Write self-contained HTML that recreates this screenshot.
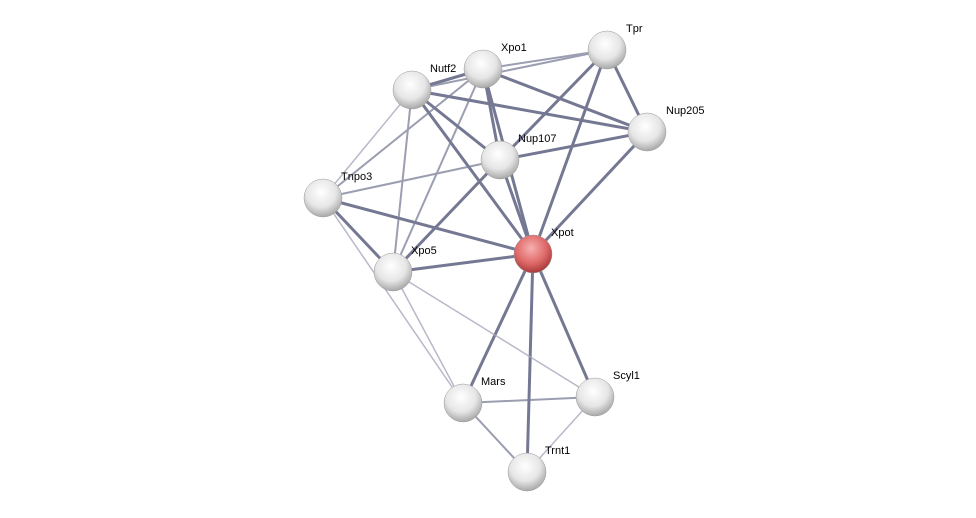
<!DOCTYPE html>
<html><head><meta charset="utf-8"><style>
html,body{margin:0;padding:0;background:#fff;}
svg{display:block;}
text{font-family:"Liberation Sans",sans-serif;font-size:11px;fill:#000;}
</style></head><body>
<svg width="976" height="518" viewBox="0 0 976 518" xmlns="http://www.w3.org/2000/svg">
<defs>
<radialGradient id="g" cx="45%" cy="35%" r="65%">
<stop offset="0" stop-color="#ffffff"/><stop offset="0.6" stop-color="#e6e6e6"/><stop offset="1" stop-color="#a8a8a8"/>
</radialGradient>
<radialGradient id="r" cx="45%" cy="35%" r="65%">
<stop offset="0" stop-color="#f6b0b0"/><stop offset="0.6" stop-color="#e06a6a"/><stop offset="1" stop-color="#a83a3a"/>
</radialGradient>
</defs>
<g stroke-linecap="round">
<g stroke="#5e6180" stroke-width="3" opacity="0.85">
<line x1="412" y1="90" x2="483" y2="69"/>
<line x1="412" y1="90" x2="647" y2="132"/>
<line x1="412" y1="90" x2="500" y2="160"/>
<line x1="412" y1="90" x2="533" y2="254"/>
<line x1="483" y1="69" x2="500" y2="160"/>
<line x1="483" y1="69" x2="533" y2="254"/>
<line x1="483" y1="69" x2="647" y2="132"/>
<line x1="607" y1="50" x2="647" y2="132"/>
<line x1="607" y1="50" x2="500" y2="160"/>
<line x1="607" y1="50" x2="533" y2="254"/>
<line x1="647" y1="132" x2="500" y2="160"/>
<line x1="647" y1="132" x2="533" y2="254"/>
<line x1="500" y1="160" x2="533" y2="254"/>
<line x1="500" y1="160" x2="393" y2="272"/>
<line x1="323" y1="198" x2="533" y2="254"/>
<line x1="323" y1="198" x2="393" y2="272"/>
<line x1="393" y1="272" x2="533" y2="254"/>
<line x1="533" y1="254" x2="463" y2="403"/>
<line x1="533" y1="254" x2="527" y2="472"/>
<line x1="533" y1="254" x2="595" y2="397"/>
</g>
<g stroke="#7a7e98" stroke-width="2" opacity="0.75">
<line x1="412" y1="90" x2="607" y2="50"/>
<line x1="483" y1="69" x2="607" y2="50"/>
<line x1="412" y1="90" x2="393" y2="272"/>
<line x1="483" y1="69" x2="323" y2="198"/>
<line x1="483" y1="69" x2="393" y2="272"/>
<line x1="500" y1="160" x2="323" y2="198"/>
<line x1="463" y1="403" x2="595" y2="397"/>
<line x1="463" y1="403" x2="527" y2="472"/>
</g>
<g stroke="#a6a8bc" stroke-width="1.5" opacity="0.8">
<line x1="412" y1="90" x2="323" y2="198"/>
<line x1="323" y1="198" x2="463" y2="403"/>
<line x1="393" y1="272" x2="463" y2="403"/>
<line x1="393" y1="272" x2="595" y2="397"/>
<line x1="595" y1="397" x2="527" y2="472"/>
</g>
</g>
<g stroke="#999" stroke-width="0.5">
<circle cx="607" cy="50" r="19" fill="url(#g)"/>
<circle cx="483" cy="69" r="19" fill="url(#g)"/>
<circle cx="412" cy="90" r="19" fill="url(#g)"/>
<circle cx="647" cy="132" r="19" fill="url(#g)"/>
<circle cx="500" cy="160" r="19" fill="url(#g)"/>
<circle cx="323" cy="198" r="19" fill="url(#g)"/>
<circle cx="533" cy="254" r="19" fill="url(#r)"/>
<circle cx="393" cy="272" r="19" fill="url(#g)"/>
<circle cx="463" cy="403" r="19" fill="url(#g)"/>
<circle cx="595" cy="397" r="19" fill="url(#g)"/>
<circle cx="527" cy="472" r="19" fill="url(#g)"/>
</g>
<text x="626" y="32">Tpr</text>
<text x="501" y="51">Xpo1</text>
<text x="430" y="72">Nutf2</text>
<text x="666" y="114">Nup205</text>
<text x="518" y="142">Nup107</text>
<text x="341" y="180">Tnpo3</text>
<text x="551" y="236">Xpot</text>
<text x="411" y="254">Xpo5</text>
<text x="481" y="385">Mars</text>
<text x="613" y="379">Scyl1</text>
<text x="545" y="454">Trnt1</text>
</svg>
</body></html>
